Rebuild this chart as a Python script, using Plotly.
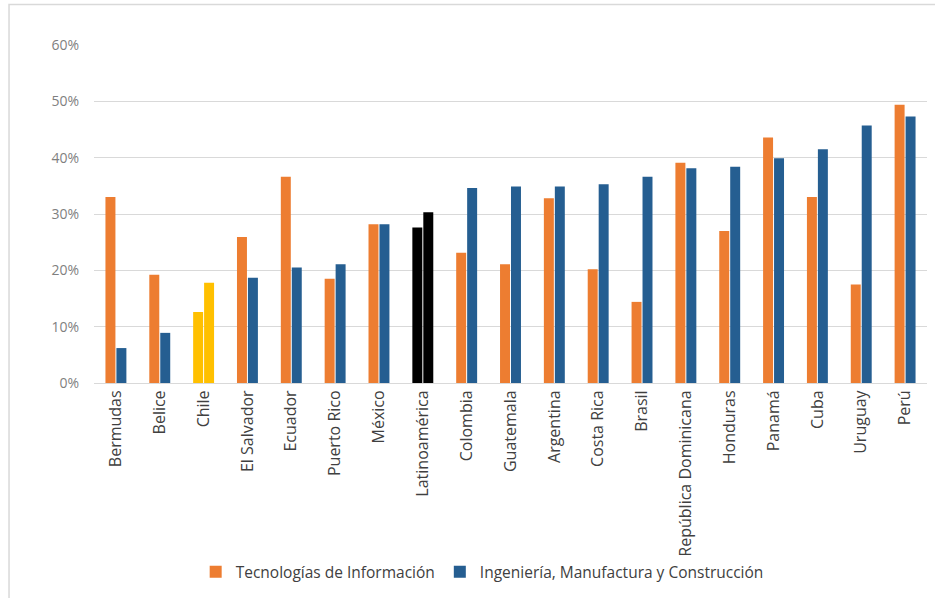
import plotly.graph_objects as go

categories = ["Bermudas", "Belice", "Chile", "El Salvador", "Ecuador", "Puerto Rico", "México",
              "Latinoamérica", "Colombia", "Guatemala", "Argentina", "Costa Rica", "Brasil",
              "República Dominicana", "Honduras", "Panamá", "Cuba", "Uruguay", "Perú"]
tec_info = [0.330, 0.192, 0.126, 0.259, 0.366, 0.185, 0.282, 0.276, 0.231, 0.211, 0.328, 0.202,
            0.144, 0.391, 0.270, 0.436, 0.330, 0.175, 0.494]
ing_manuf = [0.062, 0.089, 0.178, 0.187, 0.205, 0.211, 0.282, 0.303, 0.346, 0.349, 0.349, 0.353,
             0.366, 0.381, 0.384, 0.399, 0.415, 0.457, 0.473]
series_names = ["Tecnologías de Información", "Ingeniería, Manufactura y Construcción"]
tick_vals = [0, 0.1, 0.2, 0.3, 0.4, 0.5, 0.6]

ORANGE = "#ED7D31"
BLUE = "#255E91"
highlight = {"Chile": "#FFC000", "Latinoamérica": "#000000"}

c1 = [highlight.get(c, ORANGE) for c in categories]
c2 = [highlight.get(c, BLUE) for c in categories]

fig = go.Figure()
fig.add_trace(go.Bar(x=categories, y=tec_info, name=series_names[0], marker_color=c1,
                     marker_line_width=0))
fig.add_trace(go.Bar(x=categories, y=ing_manuf, name=series_names[1], marker_color=c2,
                     marker_line_width=0))

fig.update_layout(
    width=935, height=598,
    margin=dict(l=94, r=8, t=45, b=215),
    paper_bgcolor="white", plot_bgcolor="white",
    barmode="group", bargap=0.5, bargroupgap=0.09,
    font=dict(family="Open Sans, Liberation Sans, sans-serif", size=12, color="#404040"),
    showlegend=True,
    legend=dict(orientation="h", x=0.466, xanchor="center", y=-0.56, yanchor="middle",
                font=dict(size=15.5, color="#404040"), itemwidth=30, traceorder="normal"),
    shapes=[dict(type="rect", xref="paper", yref="paper", x0=-0.102, x1=1.02, y0=-0.65, y1=1.12,
                 line=dict(color="#D9D9D9", width=1.5), fillcolor="rgba(0,0,0,0)", layer="below")],
)
fig.update_yaxes(range=[0, 0.6], tickvals=tick_vals, tickformat=".0%", showgrid=True,
                 gridcolor="#D9D9D9", gridwidth=1, zeroline=False, showline=False,
                 tickfont=dict(size=14, color="#7F7F7F"), ticklabelstandoff=14)
fig.update_xaxes(tickangle=-90, showline=True, linecolor="#D9D9D9", linewidth=1,
                 tickfont=dict(size=16, color="#404040"), ticks="")

fig.write_html("out.html")
